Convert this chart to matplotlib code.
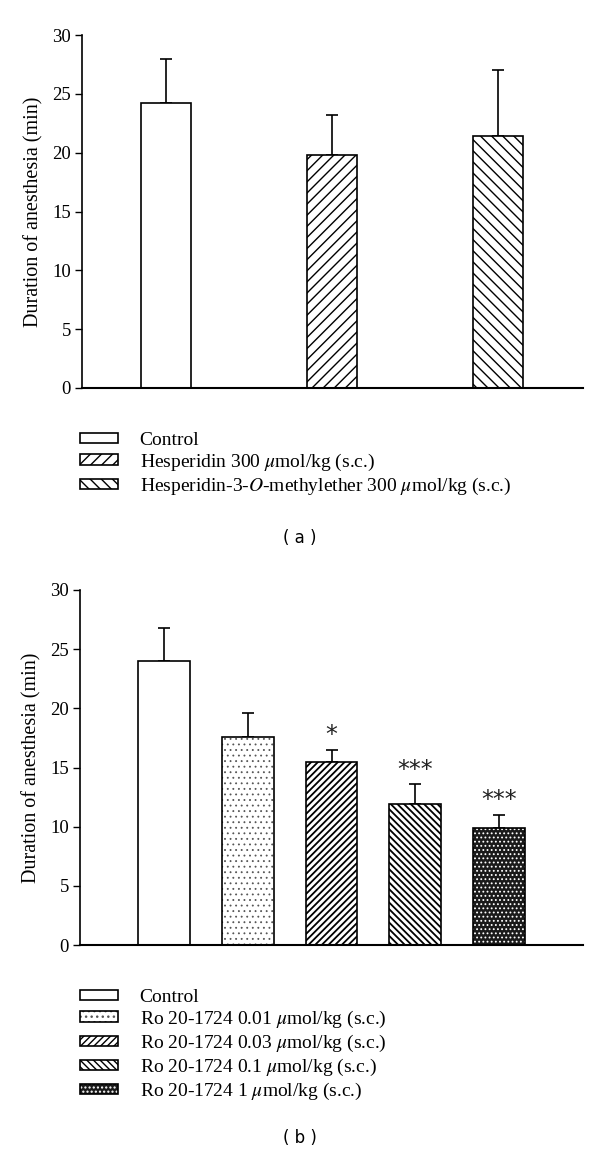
import matplotlib
matplotlib.use("Agg")
import matplotlib.pyplot as plt
import numpy as np
from matplotlib.patches import Patch
from matplotlib.legend_handler import HandlerTuple

plt.rcParams['font.family'] = ['Liberation Serif', 'DejaVu Serif']
plt.rcParams['mathtext.fontset'] = 'stix'

# Panel (a) data
a_labels = ["Control", r"Hesperidin 300 $\mu$mol/kg (s.c.)",
            r"Hesperidin-3-$O$-methylether 300 $\mu$mol/kg (s.c.)"]
a_means = [24.2, 19.8, 21.4]
a_errs = [3.8, 3.4, 5.6]
a_hatches = ["", "///", "\\\\\\"]
a_faces = ["white", "white", "white"]
a_hcols = ["black", "black", "black"]
a_hlw = [1.0, 1.0, 1.0]

# Panel (b) data
b_labels = ["Control", r"Ro 20-1724 0.01 $\mu$mol/kg (s.c.)",
            r"Ro 20-1724 0.03 $\mu$mol/kg (s.c.)",
            r"Ro 20-1724 0.1 $\mu$mol/kg (s.c.)",
            r"Ro 20-1724 1 $\mu$mol/kg (s.c.)"]
b_means = [24.0, 17.6, 15.5, 11.9, 9.9]
b_errs = [2.8, 2.0, 1.0, 1.7, 1.1]
b_hatches = ["", "...", "/////", "\\\\\\\\\\", "...."]
b_faces = ["white", "white", "white", "white", "#1a1a1a"]
b_hcols = ["black", "#555555", "black", "black", "white"]
b_hlw = [1.0, 0.6, 1.3, 1.3, 0.8]
b_stars = ["", "", "*", "***", "***"]

W, H = 600, 1162
fig = plt.figure(figsize=(6, 11.62), dpi=100)

FS_TICK = 13.5
FS_LAB = 14.5
FS_LEG = 14


def style_axes(ax):
    ax.spines['top'].set_visible(False)
    ax.spines['right'].set_visible(False)
    ax.spines['left'].set_linewidth(1.2)
    ax.spines['bottom'].set_linewidth(1.5)
    ax.set_ylim(0, 30)
    ax.set_yticks([0, 5, 10, 15, 20, 25, 30])
    ax.tick_params(axis='y', direction='out', length=5, width=1.0,
                   labelsize=FS_TICK, pad=3)
    ax.set_xticks([])
    ax.set_ylabel("Duration of anesthesia (min)", fontsize=FS_LAB, labelpad=6)


def draw_bars(ax, xs, means, errs, hatches, faces, hcols, hlws, width):
    handles = []
    for i in range(len(means)):
        plt.rcParams['hatch.linewidth'] = hlws[i]
        ax.bar(xs[i], means[i], width=width, color=faces[i], edgecolor=hcols[i],
               linewidth=0, hatch=hatches[i], zorder=2)
        ax.bar(xs[i], means[i], width=width, fill=False, edgecolor='black',
               linewidth=1.2, zorder=3)
        ax.errorbar(xs[i], means[i], yerr=[[0], [errs[i]]], fmt='none',
                    ecolor='black', elinewidth=1.2, capsize=4, capthick=1.2,
                    zorder=1)
        p1 = Patch(facecolor=faces[i], edgecolor=hcols[i], linewidth=0,
                   hatch=hatches[i])
        p2 = Patch(fill=False, edgecolor='black', linewidth=1.2)
        handles.append((p1, p2))
    plt.rcParams['hatch.linewidth'] = 1.0
    return handles


def add_legend(handles, labels, top_px):
    fig.legend(handles, labels, loc='upper left',
               bbox_to_anchor=(72/W, 1-top_px/H),
               handler_map={tuple: HandlerTuple(ndivide=1, pad=0)},
               frameon=False, fontsize=FS_LEG, handlelength=1.95,
               handleheight=0.47, handletextpad=1.13, labelspacing=0.15,
               borderaxespad=0)


# Panel (a)
axa = fig.add_axes([82/W, 1-388/H, (583-82)/W, (388-35)/H])
xa = np.arange(len(a_means))
ha = draw_bars(axa, xa, a_means, a_errs, a_hatches, a_faces, a_hcols, a_hlw, 0.30)
axa.set_xlim(-0.507, 2.513)
style_axes(axa)
add_legend(ha, a_labels, 424)
fig.text(300/W, 1-538/H, "( a )", ha='center', va='center', fontsize=12,
         family='DejaVu Sans')

# Panel (b)
axb = fig.add_axes([80/W, 1-945/H, (583-80)/W, (945-590)/H])
xb = np.arange(len(b_means))
hb = draw_bars(axb, xb, b_means, b_errs, b_hatches, b_faces, b_hcols, b_hlw, 0.62)
for i in range(len(b_means)):
    if b_stars[i]:
        axb.text(xb[i], b_means[i] + b_errs[i] + 0.2, b_stars[i],
                 ha='center', va='bottom', fontsize=17, family='DejaVu Sans',
                 color='#222222')
axb.set_xlim(-1.0, 5.0)
style_axes(axb)
add_legend(hb, b_labels, 981)
fig.text(300/W, 1-1138/H, "( b )", ha='center', va='center', fontsize=12,
         family='DejaVu Sans')

fig.savefig("out.png", dpi=100)
